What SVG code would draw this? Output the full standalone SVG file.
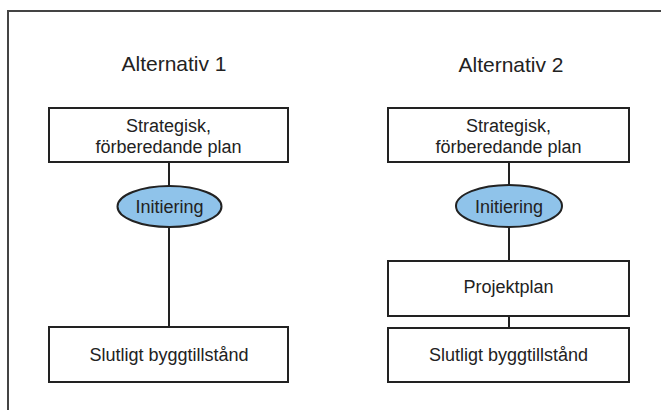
<svg xmlns="http://www.w3.org/2000/svg" width="661" height="410" viewBox="0 0 661 410">
<style>
.frame{fill:none;stroke:#444;stroke-width:2}
.box{fill:#fff;stroke:#222;stroke-width:2}
.ell{fill:#8fc3ea;stroke:#222;stroke-width:2}
.conn{stroke:#222;stroke-width:2;fill:none}
text{font-family:"Liberation Sans",Arial,sans-serif;fill:#222;text-anchor:middle}
.t{font-size:18px}
.h{font-size:21px}
</style>
<rect x="0" y="0" width="661" height="410" fill="#fff"/>
<path class="frame" d="M8,410 V11 H661"/>
<g id="connectors">
<line class="conn" x1="169" y1="162" x2="169" y2="186"/>
<line class="conn" x1="169" y1="227" x2="169" y2="327"/>
<line class="conn" x1="509" y1="162" x2="509" y2="186"/>
<line class="conn" x1="509" y1="227" x2="509" y2="261"/>
<line class="conn" x1="509" y1="316" x2="509" y2="328"/>
</g>
<g id="title1"><text class="h" x="174" y="71">Alternativ 1</text></g>
<g id="title2"><text class="h" x="511" y="72">Alternativ 2</text></g>
<g id="strat1">
<rect class="box" x="49" y="108" width="239" height="54"/>
<text class="t" x="168.5" y="132">Strategisk,</text>
<text class="t" x="168.5" y="153">förberedande plan</text>
</g>
<g id="init1">
<ellipse class="ell" cx="169.5" cy="206.5" rx="52" ry="20.5"/>
<text class="t" x="169.5" y="213">Initiering</text>
</g>
<g id="slut1">
<rect class="box" x="49" y="327" width="239" height="55"/>
<text class="t" x="169" y="361">Slutligt byggtillstånd</text>
</g>
<g id="strat2">
<rect class="box" x="388" y="108" width="241" height="54"/>
<text class="t" x="508.5" y="132">Strategisk,</text>
<text class="t" x="508.5" y="153">förberedande plan</text>
</g>
<g id="init2">
<ellipse class="ell" cx="509" cy="206" rx="53" ry="21"/>
<text class="t" x="509" y="213">Initiering</text>
</g>
<g id="proj2">
<rect class="box" x="388" y="261" width="241" height="55"/>
<text class="t" x="508.5" y="293">Projektplan</text>
</g>
<g id="slut2">
<rect class="box" x="388" y="328" width="241" height="54"/>
<text class="t" x="508.5" y="361">Slutligt byggtillstånd</text>
</g>
</svg>
